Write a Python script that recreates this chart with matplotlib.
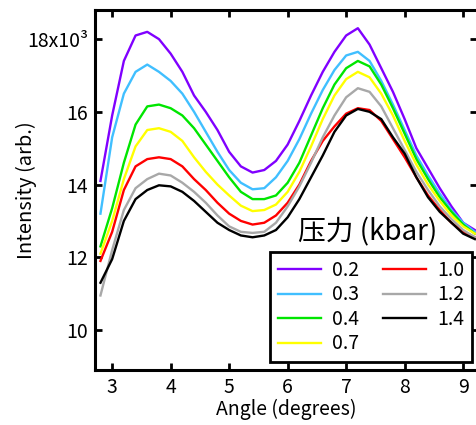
import matplotlib
matplotlib.use('Agg')
import matplotlib.pyplot as plt
import numpy as np

plt.rcParams['font.family'] = ['Noto Sans CJK SC', 'DejaVu Sans']

# angle (degrees)
angle = [2.8, 3.0, 3.2, 3.4, 3.6, 3.8, 4.0, 4.2, 4.4, 4.6, 4.8, 5.0, 5.2, 5.4, 5.6, 5.8, 6.0,
         6.2, 6.4, 6.6, 6.8, 7.0, 7.2, 7.4, 7.6, 7.8, 8.0, 8.2, 8.4, 8.6, 8.8, 9.0, 9.2]

# intensity in units of 10^3 (arb.)
int_02 = [14.1, 15.9, 17.4, 18.1, 18.2, 18.0, 17.6, 17.1, 16.45, 16.0, 15.5, 14.9, 14.5, 14.33,
          14.4, 14.65, 15.1, 15.75, 16.45, 17.1, 17.65, 18.1, 18.3, 17.85, 17.2, 16.55, 15.8,
          15.0, 14.45, 13.9, 13.4, 12.95, 12.75]
int_03 = [13.2, 15.3, 16.5, 17.1, 17.3, 17.1, 16.85, 16.5, 16.0, 15.45, 14.9, 14.4, 14.05, 13.87,
          13.9, 14.2, 14.65, 15.25, 15.95, 16.6, 17.15, 17.55, 17.65, 17.4, 16.85, 16.2, 15.5,
          14.8, 14.25, 13.75, 13.3, 12.95, 12.7]
int_04 = [12.3, 13.35, 14.6, 15.65, 16.15, 16.2, 16.1, 15.9, 15.55, 15.1, 14.65, 14.2, 13.8, 13.6,
          13.6, 13.7, 14.05, 14.6, 15.35, 16.1, 16.75, 17.2, 17.4, 17.25, 16.75, 16.1, 15.4,
          14.7, 14.15, 13.65, 13.25, 12.9, 12.65]
int_07 = [12.1, 13.0, 14.15, 15.05, 15.5, 15.55, 15.45, 15.2, 14.75, 14.35, 14.0, 13.7, 13.42, 13.27,
          13.3, 13.45, 13.8, 14.35, 15.05, 15.8, 16.45, 16.9, 17.1, 16.95, 16.5, 15.9, 15.2,
          14.55, 14.0, 13.55, 13.15, 12.85, 12.65]
int_10 = [11.9, 12.7, 13.85, 14.5, 14.7, 14.75, 14.7, 14.5, 14.15, 13.85, 13.5, 13.2, 13.0, 12.9,
          12.95, 13.15, 13.5, 14.0, 14.65, 15.2, 15.6, 15.95, 16.1, 16.05, 15.75, 15.25, 14.75,
          14.2, 13.7, 13.3, 12.95, 12.7, 12.55]
int_12 = [10.95, 12.2, 13.3, 13.9, 14.15, 14.3, 14.25, 14.05, 13.8, 13.5, 13.15, 12.85, 12.7, 12.67,
          12.7, 12.95, 13.4, 13.95, 14.6, 15.3, 15.9, 16.4, 16.65, 16.55, 16.15, 15.55, 14.95,
          14.35, 13.85, 13.4, 13.05, 12.75, 12.55]
int_14 = [11.3, 11.95, 13.0, 13.6, 13.85, 13.98, 13.95, 13.8, 13.55, 13.25, 12.95, 12.75, 12.6, 12.55,
          12.6, 12.75, 13.1, 13.6, 14.2, 14.8, 15.45, 15.9, 16.08, 16.0, 15.8, 15.3, 14.85,
          14.2, 13.65, 13.25, 12.95, 12.65, 12.5]

pressures = ['0.2', '0.3', '0.4', '0.7', '1.0', '1.2', '1.4']
series = [int_02, int_03, int_04, int_07, int_10, int_12, int_14]
colors = ['#8000FF', '#40BFFF', '#00E600', '#FFFF00', '#FF0000', '#A8A8A8', '#000000']

fig = plt.figure(figsize=(4.76, 4.25), dpi=100)
ax = fig.add_axes([0.2, 0.1294, 0.8025, 0.847])

for lab, y, c in zip(pressures, series, colors):
  ax.plot(angle, y, color=c, lw=1.7, label=lab)

ax.set_xlim(2.71, 9.24)
ax.set_ylim(8.9, 18.8)
ax.set_xticks([3, 4, 5, 6, 7, 8, 9])
ax.set_yticks([10, 12, 14, 16, 18])
ax.set_yticklabels(['10', '12', '14', '16', '18x10³'])
ax.tick_params(direction='in', top=True, right=True, length=5, width=2,
               labelsize=14, pad=5)
for s in ax.spines.values():
  s.set_linewidth(2.2)

ax.set_xlabel('Angle (degrees)', fontsize=14, labelpad=1)
ax.set_ylabel('Intensity (arb.)', fontsize=14.5)
ax.yaxis.set_label_coords(-0.152, 0.5)

leg = ax.legend(ncol=2, loc='lower right', bbox_to_anchor=(0.987, 0.022),
                borderaxespad=0, fontsize=14, frameon=True, fancybox=False,
                edgecolor='black', handlelength=2.2, labelspacing=0.18,
                columnspacing=1.2, handletextpad=0.6, borderpad=0.4)
leg.get_frame().set_linewidth(2)
leg.get_frame().set_alpha(1)

ax.text(0.712, 0.382, '压力 (kbar)', transform=ax.transAxes, fontsize=20,
        ha='center', va='center')

fig.savefig('out.png', dpi=100)
